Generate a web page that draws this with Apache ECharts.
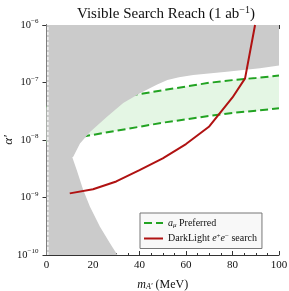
<!DOCTYPE html>
<html><head><meta charset="utf-8">
<script src="https://cdn.jsdelivr.net/npm/echarts@6/dist/echarts.min.js"></script>
<style>html,body{margin:0;padding:0;background:#fff}#c{width:289px;height:291px}</style>
</head><body><div id="c"></div>
<script>
const xTicks = [0, 20, 40, 60, 80, 100];
const yTickExps = [-10, -9, -8, -7, -6];
const bandMass  = [0, 10, 20, 30, 40, 50, 60, 70, 80, 90, 100];
const bandUpper = [3.80e-8, 4.27e-8, 4.90e-8, 5.50e-8, 6.31e-8, 7.33e-8, 8.51e-8, 9.89e-8, 1.10e-7, 1.20e-7, 1.32e-7];
const bandLower = [9.3e-9, 1.05e-8, 1.23e-8, 1.45e-8, 1.70e-8, 2.0e-8, 2.29e-8, 2.63e-8, 2.95e-8, 3.24e-8, 3.55e-8];
const exclMass  = [100, 91.8, 77.5, 63.1, 57, 52, 47.4, 40.2, 33, 25.9, 18.7, 14.4, 11.5, 11.1, 13, 15.8, 18.7, 23, 27.3, 30.5];
const exclAlpha = [1.98e-7, 1.77e-7, 1.54e-7, 1.35e-7, 1.23e-7, 1.10e-7, 9.1e-8, 6.5e-8, 4.4e-8, 2.5e-8, 1.38e-8, 8.7e-9, 5.1e-9, 5.0e-9, 3.0e-9, 1.35e-9, 6.9e-10, 3.1e-10, 1.6e-10, 1e-10];
const dlMass  = [10, 20, 30, 40, 50, 60, 70, 80, 85.4, 89.7];
const dlAlpha = [1.18e-9, 1.39e-9, 1.9e-9, 3.0e-9, 4.8e-9, 8.5e-9, 1.72e-8, 5.5e-8, 1.18e-7, 1e-6];

const X_MIN = 0, X_MAX = 100, Y_MIN = 1e-10, Y_MAX = 1e-6;
const STRIP_M = 0.6;
const FONT = "'Liberation Serif','Times New Roman',serif";
const AXC = '#333';

function polySeries(name, getPts, color, z) {
  return {
    type: 'custom', name: name, coordinateSystem: 'cartesian2d', clip: true, z: z, silent: true,
    data: [[50, 1e-8]],
    renderItem: function (params, api) {
      const pts = getPts().map(p => api.coord(p));
      return { type: 'polygon', shape: { points: pts }, style: { fill: color, stroke: null } };
    }
  };
}

const bandPts = () => bandMass.map((m, i) => [m, bandUpper[i]])
  .concat(bandMass.slice().reverse().map((m, i) => [m, bandLower[bandLower.length - 1 - i]]));
const exclPts = () => [[X_MIN, Y_MAX], [X_MAX, Y_MAX]]
  .concat(exclMass.map((m, i) => [m, exclAlpha[i]]))
  .concat([[X_MIN, Y_MIN]]);

const chart = echarts.init(document.getElementById('c'), null, { renderer: 'canvas' });
const supRich = { sup: { fontSize: 7, fontFamily: FONT, color: '#111', padding: [0, 0, 7, 0] } };

function frameAxis(extra) {
  return Object.assign({
    axisLine: { show: true, lineStyle: { color: AXC, width: 1 } },
    axisTick: { show: true, inside: true, length: 4, lineStyle: { color: AXC } },
    splitLine: { show: false }
  }, extra);
}

const option = {
  animation: false,
  backgroundColor: '#fff',
  title: {
    text: 'Visible Search Reach (1 ab{sup|−1})',
    left: 72, top: 0,
    textStyle: { fontFamily: FONT, fontSize: 15, fontWeight: 'normal', color: '#111',
      rich: { sup: { fontSize: 10, fontFamily: FONT, color: '#111', padding: [0, 0, 8, 0] } } }
  },
  grid: { left: 46.5, right: 10, top: 25, bottom: 36, containLabel: false, outerBoundsMode: 'none' },
  legend: {
    orient: 'vertical', left: 140, top: 213,
    backgroundColor: '#f8f8f8', borderColor: '#777', borderWidth: 1,
    padding: [5, 5, 5, 3], itemWidth: 19, itemHeight: 9, itemGap: 4,
    itemStyle: { opacity: 0 },
    data: ['amu', 'DarkLight'],
    textStyle: { fontFamily: FONT, fontSize: 10, color: '#111',
      rich: {
        i: { fontFamily: FONT, fontSize: 10, fontStyle: 'italic', color: '#111' },
        sub: { fontFamily: FONT, fontSize: 7, fontStyle: 'italic', color: '#111', padding: [4, 0, 0, 0] },
        sup: { fontFamily: FONT, fontSize: 7, color: '#111', padding: [0, 0, 5, 0] }
      } },
    formatter: function (n) {
      if (n === 'amu') return '{i|a}{sub|μ} Preferred';
      return 'DarkLight {i|e}{sup|+}{i|e}{sup|−} search';
    }
  },
  xAxis: [frameAxis({
    type: 'value', min: X_MIN, max: X_MAX, interval: 20, position: 'bottom',
    name: '{i|m}{sub|A\'} (MeV)', nameLocation: 'middle', nameGap: 23, nameMoveOverlap: false,
    nameTextStyle: { fontFamily: FONT, fontSize: 12, color: '#111',
      rich: { i: { fontFamily: FONT, fontSize: 12, fontStyle: 'italic', color: '#111' },
              sub: { fontFamily: FONT, fontSize: 8, fontStyle: 'italic', color: '#111', padding: [5, 0, 0, 0] } } },
    minorTick: { show: true, splitNumber: 4, length: 2, lineStyle: { color: AXC } },
    axisLabel: { fontFamily: FONT, fontSize: 11, color: '#111', margin: 5,
      formatter: v => xTicks.includes(v) ? String(v) : '' }
  }), frameAxis({
    type: 'value', min: X_MIN, max: X_MAX, interval: 20, position: 'top',
    minorTick: { show: true, splitNumber: 4, length: 2, lineStyle: { color: AXC } },
    axisLabel: { show: false }
  })],
  yAxis: [frameAxis({
    type: 'log', logBase: 10, min: Y_MIN, max: Y_MAX, position: 'left',
    name: 'α\'', nameLocation: 'middle', nameGap: 31, nameRotate: 90, nameMoveOverlap: false,
    nameTextStyle: { fontFamily: FONT, fontSize: 13, fontStyle: 'italic', color: '#111' },
    axisLabel: { fontFamily: FONT, fontSize: 10.5, color: '#111', margin: 8, rich: supRich,
      formatter: function (v) {
        const e = Math.round(Math.log10(v));
        if (!yTickExps.includes(e)) return '';
        return '10{sup|' + (e < 0 ? '−' : '') + Math.abs(e) + '}';
      } }
  }), frameAxis({
    type: 'log', logBase: 10, min: Y_MIN, max: Y_MAX, position: 'right',
    axisLabel: { show: false }
  })],
  series: [
    polySeries('band', bandPts, '#e4f6e4', 1),
    {
      type: 'line', name: 'amu', z: 2, symbol: 'none', silent: true,
      data: bandMass.map((m, i) => [m, bandUpper[i]]),
      lineStyle: { color: '#22a322', width: 2, type: [8, 4] }, itemStyle: { color: '#22a322' }
    },
    {
      type: 'line', name: 'amu', z: 2, symbol: 'none', silent: true,
      data: bandMass.map((m, i) => [m, bandLower[i]]),
      lineStyle: { color: '#22a322', width: 2, type: [8, 4] }, itemStyle: { color: '#22a322' }
    },
    polySeries('excl', exclPts, '#cbcbcb', 3),
    {
      type: 'line', name: 'strip', z: 3, symbol: 'none', silent: true,
      data: [[STRIP_M, Y_MIN], [STRIP_M, Y_MAX]],
      lineStyle: { color: '#ffffff', width: 1.2, type: [3, 2] }
    },
    {
      type: 'line', name: 'DarkLight', z: 4, symbol: 'none', silent: true,
      data: dlMass.map((m, i) => [m, dlAlpha[i]]),
      lineStyle: { color: '#b01212', width: 2 }, itemStyle: { color: '#b01212' }
    }
  ]
};
chart.setOption(option);
</script></body></html>
